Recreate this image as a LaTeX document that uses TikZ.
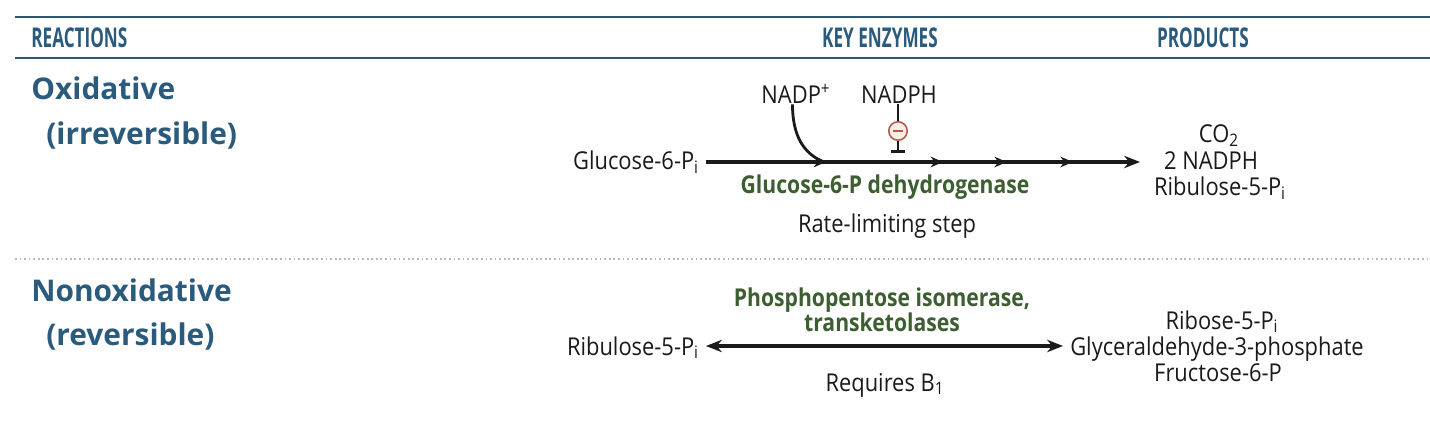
\documentclass[tikz,border=0pt]{standalone}
\usepackage{fontspec}
\setmainfont[FakeStretch=0.89]{Open Sans}
\newfontfamily\capsfont[FakeStretch=0.63]{Open Sans}
\newfontfamily\headfont{Open Sans}
\newfontfamily\enzfont[FakeStretch=0.86]{Open Sans}
\usetikzlibrary{arrows.meta,decorations.markings}
\definecolor{ruleblue}{HTML}{2E5775}
\definecolor{headblue}{HTML}{2A5A7C}
\definecolor{enzgreen}{HTML}{3D5E30}
\definecolor{dotgrey}{HTML}{AEBCC8}
\definecolor{inhred}{HTML}{B35A45}
\definecolor{inhsoft}{HTML}{FBEDE8}
\definecolor{inkc}{HTML}{1A1A1A}

\begin{document}
\begin{tikzpicture}[x=0.02cm, y=-0.02cm,
        colhead/.style={font=\capsfont\bfseries\fontsize{15.5}{18}\selectfont, text=headblue, inner sep=0pt, anchor=base},
        rowhead/.style={font=\headfont\bfseries\fontsize{17}{20}\selectfont, text=headblue, inner sep=0pt, anchor=base west},
        chem/.style={font=\fontsize{14}{16}\selectfont, text=inkc, inner sep=0pt, anchor=base},
        enz/.style={chem, font=\enzfont\bfseries\fontsize{14}{16}\selectfont, text=enzgreen},
        hrule/.style={draw=ruleblue, line width=1.1pt},
        rxn/.style={draw=inkc, line width=1.8pt, -{Stealth[length=9pt, width=7pt]}},
        rev/.style={rxn, {Stealth[length=9pt, width=7pt]}-{Stealth[length=9pt, width=7pt]}},
        steps/.style={postaction={decorate}, decoration={markings,
            mark=at position 0.2765 with {\arrow{Stealth[length=7pt, width=6pt]}},
            mark=at position 0.546 with {\arrow{Stealth[length=7pt, width=6pt]}},
            mark=at position 0.693 with {\arrow{Stealth[length=7pt, width=6pt]}},
            mark=at position 0.845 with {\arrow{Stealth[length=7pt, width=6pt]}}}},
        inh/.style={draw=inkc, line width=1.6pt}]
      \fill[white] (0,0) rectangle (1430,442);
      \useasboundingbox (0,0) rectangle (1430,442);
      \draw[hrule] (15,17) -- (1430,17);
      \draw[hrule] (15,58) -- (1430,58);
      \draw[dotgrey, line width=1pt, dash pattern=on 1pt off 1.6pt] (15,259) -- (1430,259);
      \node[colhead, anchor=base west] (hreac) at (31,48) {REACTIONS};
      \node[colhead] (henz) at (880,48) {KEY ENZYMES};
      \node[colhead] (hprod) at (1203,48) {PRODUCTS};
      \node[rowhead] (oxi) at (31,100) {Oxidative};
      \node[rowhead] (oxi2) at (46,145) {(irreversible)};
      \node[rowhead] (nonoxi) at (31,301) {Nonoxidative};
      \node[rowhead] (nonoxi2) at (46,345) {(reversible)};
      \node[chem, anchor=base east, outer xsep=4pt] (glc) at (706,170) {Glucose-6-P\textsubscript{i}};
      \coordinate (oxend) at (1140,162);
      \draw[rxn, steps] (glc.east |- oxend) -- (oxend);
      \node[chem] (nadp) at (796,104) {NADP\textsuperscript{+}};
      \coordinate (join) at (824,162);
      \draw[inh] ([xshift=-2pt]nadp.south) .. controls +(0,32) and +(-20,-8) .. (join);
      \node[chem] (nadph) at (899,104) {NADPH};
      \node[circle, draw=inhred, fill=inhsoft, line width=0.9pt, minimum size=10.5pt, inner sep=0pt] (minus) at (898,131) {\textcolor{inhred}{\rule{5.5pt}{1.3pt}}};
      \coordinate (tbar) at (898,153);
      \draw[inh] (nadph.south -| minus) -- (minus.north);
      \draw[inh, -{Bar[width=8pt]}] (minus.south) -- (tbar);
      \node[enz] (g6pd) at (885,194) {Glucose-6-P dehydrogenase};
      \node[chem] (rate) at (887,233) {Rate-limiting step};
      \node[chem] (co2) at (1219,143) {CO\textsubscript{2}};
      \node[chem] (nadphp) at (1211,170) {2 NADPH};
      \node[chem] (ru5p) at (1220,196) {Ribulose-5-P\textsubscript{i}};
      \node[enz] (ppi) at (882,306) {Phosphopentose isomerase,};
      \node[enz] (tkt) at (882,331) {transketolases};
      \node[chem, anchor=base east, outer xsep=4pt] (rib) at (706,355) {Ribulose-5-P\textsubscript{i}};
      \coordinate (nonend) at (1063,346);
      \draw[rev] (rib.east |- nonend) -- (nonend);
      \node[chem] (b1) at (885,391) {Requires B\textsubscript{1}};
      \node[chem] (r5p) at (1222,329) {Ribose-5-P\textsubscript{i}};
      \node[chem] (gap) at (1217,355) {Glyceraldehyde-3-phosphate};
      \node[chem] (f6p) at (1218,381) {Fructose-6-P};
    \end{tikzpicture}
\end{document}
